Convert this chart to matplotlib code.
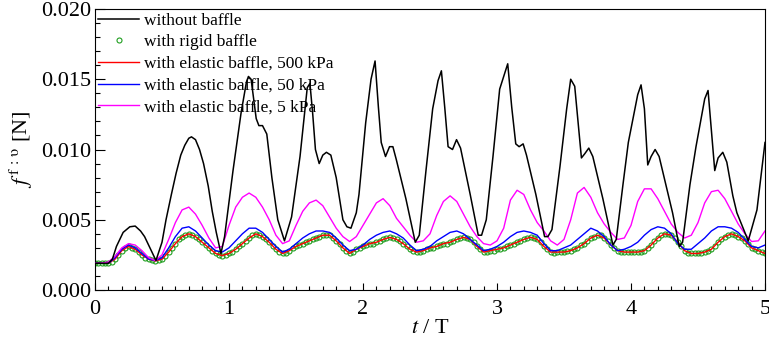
import numpy as np
import matplotlib
matplotlib.use("Agg")
import matplotlib.pyplot as plt
from matplotlib.ticker import MultipleLocator, FormatStrFormatter
from matplotlib.lines import Line2D

plt.rcParams['font.family'] = ['Liberation Serif', 'DejaVu Serif']
plt.rcParams['mathtext.fontset'] = 'stix'

# ---------------- data ----------------
# without baffle (vertices of the polyline)
t_none = [0, 0.10, 0.13, 0.16, 0.21, 0.26, 0.30, 0.34, 0.37, 0.41, 0.455,
          0.50, 0.53, 0.57, 0.605, 0.64, 0.67, 0.70, 0.72, 0.75, 0.78, 0.81, 0.845, 0.875, 0.905, 0.94,
          0.967, 1.03, 1.09, 1.13, 1.145, 1.165, 1.185, 1.203, 1.223, 1.25, 1.282, 1.32, 1.364, 1.414,
          1.467, 1.53, 1.584, 1.604, 1.625, 1.645, 1.673, 1.70, 1.727, 1.76, 1.80, 1.85, 1.88, 1.91,
          1.95, 1.97, 2.02, 2.06, 2.09, 2.115, 2.136, 2.168, 2.198, 2.223, 2.248, 2.32, 2.39,
          2.42, 2.47, 2.52, 2.56, 2.585, 2.61, 2.635, 2.668, 2.698, 2.728, 2.80, 2.86, 2.885,
          2.92, 2.97, 3.02, 3.05, 3.08, 3.11, 3.14, 3.165, 3.195, 3.22, 3.29, 3.355, 3.38,
          3.41, 3.47, 3.52, 3.55, 3.58, 3.63, 3.655, 3.685, 3.715, 3.79, 3.865,
          3.89, 3.94, 3.98, 4.05, 4.075, 4.10, 4.125, 4.15, 4.18, 4.21, 4.31, 4.36,
          4.385, 4.44, 4.485, 4.55, 4.575, 4.625, 4.65, 4.685, 4.715, 4.76, 4.79, 4.875,
          4.94, 5.0]
f_none = [0.0019, 0.0019, 0.0022, 0.0031, 0.0041, 0.0045, 0.00455, 0.0042, 0.0038, 0.0030, 0.0021,
          0.0034, 0.0050, 0.0068, 0.0083, 0.0096, 0.0103, 0.0108, 0.0109, 0.0107, 0.0100, 0.0090, 0.0074, 0.0056, 0.0041, 0.0026,
          0.0038, 0.0085, 0.0126, 0.0148, 0.0152, 0.0150, 0.0135, 0.0122, 0.0117, 0.0117, 0.0111, 0.0080, 0.0050, 0.0035,
          0.0052, 0.0095, 0.0144, 0.0147, 0.0125, 0.0100, 0.0090, 0.0096, 0.0098, 0.0096, 0.0080, 0.0050, 0.0045, 0.0044,
          0.0055, 0.0068, 0.0119, 0.0150, 0.0163, 0.0130, 0.0105, 0.0095, 0.0102, 0.0102, 0.0093, 0.0065, 0.0034,
          0.0039, 0.0085, 0.0129, 0.0149, 0.0156, 0.0130, 0.0102, 0.0100, 0.0107, 0.0101, 0.0068, 0.0039, 0.0039,
          0.0050, 0.0095, 0.0143, 0.0152, 0.0161, 0.0130, 0.0104, 0.0102, 0.0104, 0.0096, 0.0068, 0.0038, 0.0038,
          0.0043, 0.0088, 0.0129, 0.0150, 0.0145, 0.0094, 0.0097, 0.0101, 0.0095, 0.0065, 0.0032,
          0.0036, 0.0075, 0.0105, 0.0139, 0.0146, 0.0129, 0.0089, 0.0095, 0.0100, 0.0095, 0.0055, 0.0031,
          0.0034, 0.0075, 0.0102, 0.0136, 0.0142, 0.0085, 0.0094, 0.0098, 0.0091, 0.0067, 0.0055, 0.0035,
          0.0057, 0.0105]

# elastic baffles, sampled every 0.05 T
t_el = [round(0.05 * i, 2) for i in range(101)]
f_500 = [0.0019, 0.0019, 0.0019, 0.0022, 0.0028, 0.0031, 0.0029, 0.0025, 0.0022, 0.00207,
         0.0022, 0.0027, 0.0033, 0.0038, 0.0040, 0.0038, 0.0034, 0.0030, 0.0026, 0.00245,
         0.0026, 0.0029, 0.0033, 0.0037, 0.0040, 0.0038, 0.0034, 0.0029, 0.0026, 0.0028,
         0.0031, 0.0033, 0.0035, 0.0037, 0.0039, 0.0039, 0.0035, 0.0030, 0.0026, 0.0029,
         0.0031, 0.0033, 0.0034, 0.0036, 0.00375, 0.0036, 0.0033, 0.0029, 0.0027, 0.0028,
         0.0030, 0.0031, 0.0033, 0.0034, 0.0036, 0.00375, 0.0036, 0.0031, 0.0027, 0.0028,
         0.0029, 0.0030, 0.0032, 0.0034, 0.0036, 0.00376, 0.0036, 0.0031, 0.0027, 0.0027,
         0.0027, 0.0028, 0.0030, 0.0033, 0.0037, 0.0039, 0.0037, 0.0032, 0.0028, 0.0027,
         0.0027, 0.0027, 0.0028, 0.0032, 0.0037, 0.0040, 0.0039, 0.0034, 0.0028, 0.0026,
         0.0026, 0.0027, 0.0029, 0.0034, 0.0038, 0.0040, 0.0038, 0.0035, 0.0030, 0.0028,
         0.0026]
f_50 = [0.0019, 0.0019, 0.0019, 0.0023, 0.0029, 0.0032, 0.0030, 0.0026, 0.0022, 0.0021,
        0.0023, 0.0030, 0.0038, 0.0044, 0.0045, 0.0042, 0.0037, 0.0032, 0.0028, 0.0027,
        0.0030, 0.0035, 0.0040, 0.0044, 0.0044, 0.0041, 0.0036, 0.0031, 0.0027, 0.0029,
        0.0033, 0.0037, 0.0040, 0.0042, 0.0042, 0.0041, 0.0037, 0.0032, 0.0028, 0.0029,
        0.0032, 0.0036, 0.0039, 0.0041, 0.0042, 0.0040, 0.0037, 0.0032, 0.0028, 0.0029,
        0.0031, 0.0035, 0.0038, 0.0041, 0.0042, 0.0040, 0.0036, 0.0032, 0.0028, 0.0029,
        0.0031, 0.0034, 0.0038, 0.0041, 0.0042, 0.0041, 0.0039, 0.0033, 0.0028, 0.0028,
        0.0030, 0.0032, 0.0036, 0.0040, 0.0044, 0.0042, 0.0038, 0.0032, 0.0028, 0.0029,
        0.0031, 0.0034, 0.0039, 0.0043, 0.0045, 0.0044, 0.0040, 0.0033, 0.0029, 0.0029,
        0.0033, 0.0037, 0.0042, 0.0045, 0.0045, 0.0044, 0.0041, 0.0036, 0.0031, 0.0030,
        0.0032]
f_5 = [0.0019, 0.0019, 0.0020, 0.0024, 0.0030, 0.0033, 0.0032, 0.0028, 0.0023, 0.0021,
       0.0025, 0.0036, 0.0048, 0.0057, 0.0059, 0.0054, 0.0046, 0.0037, 0.0030, 0.0031,
       0.0046, 0.0059, 0.0066, 0.0069, 0.0066, 0.0059, 0.0050, 0.0039, 0.0033, 0.0035,
       0.0046, 0.0056, 0.0062, 0.0064, 0.0060, 0.0052, 0.0044, 0.0038, 0.00345, 0.0038,
       0.0046, 0.0054, 0.0062, 0.0065, 0.0060, 0.0051, 0.0045, 0.0039, 0.0034, 0.0035,
       0.0040, 0.0053, 0.0063, 0.0067, 0.0063, 0.0054, 0.0045, 0.0038, 0.0033, 0.0032,
       0.0035, 0.0044, 0.0064, 0.0071, 0.0068, 0.0057, 0.0048, 0.0042, 0.0035, 0.0032,
       0.0036, 0.0050, 0.0069, 0.0073, 0.0066, 0.0055, 0.0047, 0.0041, 0.0036, 0.0037,
       0.0046, 0.0063, 0.0072, 0.0072, 0.0065, 0.0056, 0.0047, 0.0041, 0.0037, 0.0039,
       0.0048, 0.0062, 0.0070, 0.0071, 0.0065, 0.0056, 0.0047, 0.0040, 0.00345, 0.0035,
       0.0042]

# rigid baffle, sampled every 0.025 T
t_rigid = [round(0.025 * i, 3) for i in range(201)]
f_rigid = [0.0019, 0.0019, 0.0019, 0.0019, 0.0019, 0.0020, 0.0022, 0.0025, 0.0028, 0.0030,
           0.0031, 0.0030, 0.0029, 0.0027, 0.0025, 0.0023, 0.0022, 0.0021, 0.00205, 0.0021,
           0.0022, 0.0024, 0.0027, 0.0030, 0.0033, 0.0036, 0.0038, 0.0039, 0.0040, 0.0039,
           0.0038, 0.0036, 0.0034, 0.0032, 0.0030, 0.0028, 0.0026, 0.0025, 0.0024, 0.0025,
           0.0026, 0.0027, 0.0029, 0.0031, 0.0033, 0.0035, 0.0037, 0.0039, 0.0040, 0.0039,
           0.0038, 0.0036, 0.0034, 0.0031, 0.0029, 0.0027, 0.0026, 0.0026, 0.0028, 0.0030,
           0.0031, 0.0032, 0.0033, 0.0034, 0.0035, 0.0036, 0.0037, 0.0038, 0.0039, 0.0039,
           0.0039, 0.0037, 0.0035, 0.0033, 0.0030, 0.0028, 0.0026, 0.0027, 0.0029, 0.0030,
           0.0031, 0.0032, 0.0033, 0.0033, 0.0034, 0.0035, 0.0036, 0.0037, 0.00375, 0.0037,
           0.0036, 0.0035, 0.0033, 0.0031, 0.0029, 0.0028, 0.0027, 0.0027, 0.0028, 0.0029,
           0.0030, 0.0030, 0.0031, 0.0032, 0.0033, 0.0033, 0.0034, 0.0035, 0.0036, 0.0037,
           0.00375, 0.0037, 0.0036, 0.0034, 0.0031, 0.0029, 0.0027, 0.0027, 0.0028, 0.0028,
           0.0029, 0.0029, 0.0030, 0.0031, 0.0032, 0.0033, 0.0034, 0.0035, 0.0036, 0.0037,
           0.0038, 0.0037, 0.0036, 0.0034, 0.0031, 0.0029, 0.0027, 0.0026, 0.0027, 0.0027,
           0.0027, 0.0028, 0.0028, 0.0029, 0.0030, 0.0032, 0.0033, 0.0035, 0.0037, 0.0038,
           0.0039, 0.0039, 0.0037, 0.0035, 0.0032, 0.0030, 0.0028, 0.0027, 0.0027, 0.0027,
           0.0027, 0.0027, 0.0027, 0.0027, 0.0028, 0.0030, 0.0032, 0.0035, 0.0037, 0.0039,
           0.0040, 0.0040, 0.0039, 0.0037, 0.0034, 0.0031, 0.0028, 0.0026, 0.0026, 0.0026,
           0.0026, 0.0026, 0.0027, 0.0028, 0.0029, 0.0031, 0.0034, 0.0036, 0.0038, 0.0039,
           0.0040, 0.0039, 0.0038, 0.0037, 0.0035, 0.0033, 0.0030, 0.0029, 0.0028, 0.0027,
           0.0026]

labels = ["without baffle", "with rigid baffle", "with elastic baffle, 500 kPa",
          "with elastic baffle, 50 kPa", "with elastic baffle, 5 kPa"]

# ---------------- figure ----------------
fig = plt.figure(figsize=(7.69, 3.43), dpi=100)
ax = fig.add_axes([95 / 769, 1 - 290 / 343, 670 / 769, 281 / 343])

green = '#1f9e1f'
h_rigid, = ax.plot(t_rigid, f_rigid, linestyle='none', marker='o', ms=3.6, mfc='none',
                   mec=green, mew=0.8, label=labels[1], zorder=2)
h_500, = ax.plot(t_el, f_500, color='#ff0000', lw=1.0, label=labels[2], zorder=3)
h_50, = ax.plot(t_el, f_50, color='#0000ff', lw=1.0, label=labels[3], zorder=3)
h_5, = ax.plot(t_el, f_5, color='#ff00ff', lw=1.0, label=labels[4], zorder=3)
h_none, = ax.plot(t_none, f_none, color='black', lw=1.1, label=labels[0], zorder=4)

ax.set_xlim(0, 5)
ax.set_ylim(0, 0.020)
ax.xaxis.set_major_locator(MultipleLocator(1))
ax.xaxis.set_minor_locator(MultipleLocator(0.1))
ax.yaxis.set_major_locator(MultipleLocator(0.005))
ax.yaxis.set_minor_locator(MultipleLocator(0.001))
ax.yaxis.set_major_formatter(FormatStrFormatter('%.3f'))
ax.tick_params(axis='both', which='both', direction='in', top=False, right=False,
               labelsize=16, width=0.8)
ax.tick_params(axis='x', which='major', length=5, pad=7)
ax.tick_params(axis='x', which='minor', length=3)
ax.tick_params(axis='y', which='major', length=7, pad=3)
ax.tick_params(axis='y', which='minor', length=3.5)
for sp in ax.spines.values():
    sp.set_linewidth(0.8)

ax.set_xlabel(r'$t$ / T', fontsize=16, labelpad=0)
ax.set_ylabel(r'$f^{\,\mathrm{f\,:\,\upsilon}}$ [N]', fontsize=16, labelpad=4)

leg_handles = [h_none, Line2D([], [], linestyle='none', marker='o', ms=3.6, mfc='none',
                              mec=green, mew=0.8), h_500, h_50, h_5]
ax.legend(leg_handles, labels, loc='upper left', frameon=False, fontsize=12.5,
          handlelength=2.35, handletextpad=0.3, labelspacing=0.32,
          borderaxespad=0.0, borderpad=0.2, numpoints=1)

fig.savefig('out.png', dpi=100)
